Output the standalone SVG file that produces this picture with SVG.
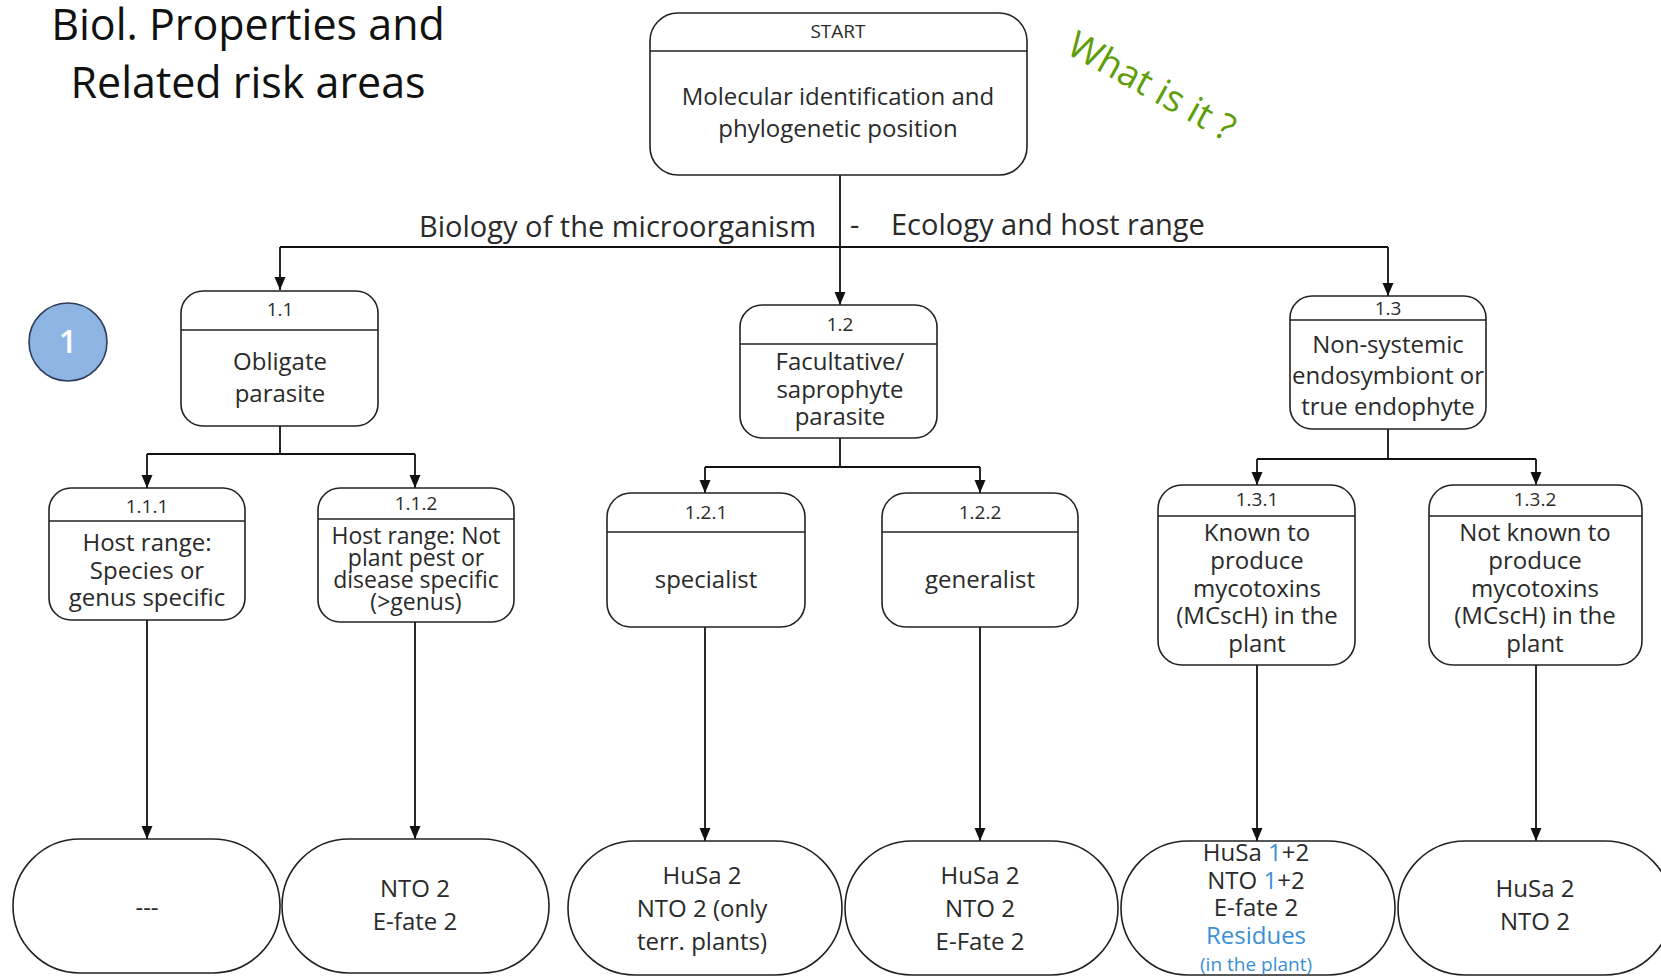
<svg xmlns="http://www.w3.org/2000/svg" width="1661" height="976" viewBox="0 0 1661 976">
<style>
  .box { fill: #ffffff; stroke: #222222; stroke-width: 1.6; }
  .sep { stroke: #222222; stroke-width: 1.6; }
  .conn { fill: none; stroke: #111111; stroke-width: 1.8; }
  text { font-family: "Open Sans", "Noto Sans", sans-serif; fill: #2a2a2a; text-anchor: middle; }
  .hd { font-size: 19px; }
  .bd { font-size: 24px; }
  .tight { font-size: 23px; }
  .bt { font-size: 24px; }
  .lbl { font-size: 29px; text-anchor: start; }
  .title { font-size: 43px; fill: #111111; }
  .blue { fill: #3a8fd4; }
</style>
<defs>
  <marker id="arr" markerUnits="userSpaceOnUse" markerWidth="14" markerHeight="14" viewBox="0 0 14 14" refX="13" refY="7" orient="auto">
    <path d="M0,1.5 L13,7 L0,12.5 Z" fill="#111111"/>
  </marker>
</defs>

<g id="title">
  <text class="title" x="248" y="40">Biol. Properties and</text>
  <text class="title" x="248" y="98">Related risk areas</text>
</g>

<g id="whatisit">
  <text x="0" y="13" transform="translate(1152,86) rotate(29)" style="font-size:37px; fill:#5e9e0a;">What is it ?</text>
</g>

<g id="badge">
  <circle cx="68" cy="342" r="39" fill="#8db4e2" stroke="#2e3d58" stroke-width="1.6"/>
  <text x="68" y="353" style="font-size:32px; fill:#ffffff; font-weight:600;">1</text>
</g>

<g id="connectors">
  <path class="conn" d="M840,175 V247 M280,247 H1388"/>
  <path class="conn" d="M280,247 V290" marker-end="url(#arr)"/>
  <path class="conn" d="M840,247 V305" marker-end="url(#arr)"/>
  <path class="conn" d="M1388,247 V296" marker-end="url(#arr)"/>

  <path class="conn" d="M280,426 V454 M147,454 H415"/>
  <path class="conn" d="M147,454 V488" marker-end="url(#arr)"/>
  <path class="conn" d="M415,454 V488" marker-end="url(#arr)"/>

  <path class="conn" d="M840,438 V467 M705,467 H980"/>
  <path class="conn" d="M705,467 V493" marker-end="url(#arr)"/>
  <path class="conn" d="M980,467 V493" marker-end="url(#arr)"/>

  <path class="conn" d="M1388,429 V459 M1257,459 H1536"/>
  <path class="conn" d="M1257,459 V485" marker-end="url(#arr)"/>
  <path class="conn" d="M1536,459 V485" marker-end="url(#arr)"/>

  <path class="conn" d="M147,620 V839" marker-end="url(#arr)"/>
  <path class="conn" d="M415,622 V839" marker-end="url(#arr)"/>
  <path class="conn" d="M705,627 V841" marker-end="url(#arr)"/>
  <path class="conn" d="M980,627 V841" marker-end="url(#arr)"/>
  <path class="conn" d="M1257,665 V841" marker-end="url(#arr)"/>
  <path class="conn" d="M1536,665 V841" marker-end="url(#arr)"/>
</g>

<g id="branch-labels">
  <text class="lbl" x="419" y="237">Biology of the microorganism</text>
  <text class="lbl" x="850" y="235">-</text>
  <text class="lbl" x="891" y="235">Ecology and host range</text>
</g>

<g id="start">
  <rect class="box" x="650" y="13" width="377" height="162" rx="28"/>
  <line class="sep" x1="650" y1="51" x2="1027" y2="51"/>
  <text class="hd" x="838" y="38">START</text>
  <text class="bd" x="838" y="105">Molecular identification and</text>
  <text class="bd" x="838" y="137">phylogenetic position</text>
</g>

<g id="n1-1">
  <rect class="box" x="181" y="291" width="197" height="135" rx="22"/>
  <line class="sep" x1="181" y1="330" x2="378" y2="330"/>
  <text class="hd" x="280" y="316">1.1</text>
  <text class="bd" x="280" y="370">Obligate</text>
  <text class="bd" x="280" y="402">parasite</text>
</g>

<g id="n1-2">
  <rect class="box" x="740" y="305" width="197" height="133" rx="22"/>
  <line class="sep" x1="740" y1="344" x2="937" y2="344"/>
  <text class="hd" x="840" y="331">1.2</text>
  <text class="bd" x="840" y="370">Facultative/</text>
  <text class="bd" x="840" y="398">saprophyte</text>
  <text class="bd" x="840" y="425">parasite</text>
</g>

<g id="n1-3">
  <rect class="box" x="1290" y="296" width="196" height="133" rx="22"/>
  <line class="sep" x1="1290" y1="320" x2="1486" y2="320"/>
  <text class="hd" x="1388" y="315">1.3</text>
  <text class="bd" x="1388" y="353">Non-systemic</text>
  <text class="bd" x="1388" y="384">endosymbiont or</text>
  <text class="bd" x="1388" y="415">true endophyte</text>
</g>

<g id="n1-1-1">
  <rect class="box" x="49" y="488" width="196" height="132" rx="22"/>
  <line class="sep" x1="49" y1="521" x2="245" y2="521"/>
  <text class="hd" x="147" y="513">1.1.1</text>
  <text class="bd" x="147" y="551">Host range:</text>
  <text class="bd" x="147" y="579">Species or</text>
  <text class="bd" x="147" y="606">genus specific</text>
</g>

<g id="n1-1-2">
  <rect class="box" x="318" y="488" width="196" height="134" rx="22"/>
  <line class="sep" x1="318" y1="519" x2="514" y2="519"/>
  <text class="hd" x="416" y="510">1.1.2</text>
  <text class="tight" x="416" y="544">Host range: Not</text>
  <text class="tight" x="416" y="566">plant pest or</text>
  <text class="tight" x="416" y="588">disease specific</text>
  <text class="tight" x="416" y="610">(&gt;genus)</text>
</g>

<g id="n1-2-1">
  <rect class="box" x="607" y="493" width="198" height="134" rx="24"/>
  <line class="sep" x1="607" y1="532" x2="805" y2="532"/>
  <text class="hd" x="706" y="519">1.2.1</text>
  <text class="bd" x="706" y="588">specialist</text>
</g>

<g id="n1-2-2">
  <rect class="box" x="882" y="493" width="196" height="134" rx="24"/>
  <line class="sep" x1="882" y1="532" x2="1078" y2="532"/>
  <text class="hd" x="980" y="519">1.2.2</text>
  <text class="bd" x="980" y="588">generalist</text>
</g>

<g id="n1-3-1">
  <rect class="box" x="1158" y="485" width="197" height="180" rx="24"/>
  <line class="sep" x1="1158" y1="516" x2="1355" y2="516"/>
  <text class="hd" x="1257" y="506">1.3.1</text>
  <text class="bd" x="1257" y="541">Known to</text>
  <text class="bd" x="1257" y="569">produce</text>
  <text class="bd" x="1257" y="597">mycotoxins</text>
  <text class="bd" x="1257" y="624">(MCscH) in the</text>
  <text class="bd" x="1257" y="652">plant</text>
</g>

<g id="n1-3-2">
  <rect class="box" x="1429" y="485" width="213" height="180" rx="24"/>
  <line class="sep" x1="1429" y1="516" x2="1642" y2="516"/>
  <text class="hd" x="1535" y="506">1.3.2</text>
  <text class="bd" x="1535" y="541">Not known to</text>
  <text class="bd" x="1535" y="569">produce</text>
  <text class="bd" x="1535" y="597">mycotoxins</text>
  <text class="bd" x="1535" y="624">(MCscH) in the</text>
  <text class="bd" x="1535" y="652">plant</text>
</g>

<g id="r1">
  <rect class="box" x="13" y="839" width="267" height="134" rx="67"/>
  <text class="bt" x="147" y="916">---</text>
</g>

<g id="r2">
  <rect class="box" x="282" y="839" width="267" height="134" rx="67"/>
  <text class="bt" x="415" y="897">NTO 2</text>
  <text class="bt" x="415" y="930">E-fate 2</text>
</g>

<g id="r3">
  <rect class="box" x="568" y="841" width="274" height="134" rx="67"/>
  <text class="bt" x="702" y="884">HuSa 2</text>
  <text class="bt" x="702" y="917">NTO 2 (only</text>
  <text class="bt" x="702" y="950">terr. plants)</text>
</g>

<g id="r4">
  <rect class="box" x="845" y="841" width="273" height="134" rx="67"/>
  <text class="bt" x="980" y="884">HuSa 2</text>
  <text class="bt" x="980" y="917">NTO 2</text>
  <text class="bt" x="980" y="950">E-Fate 2</text>
</g>

<g id="r5">
  <rect class="box" x="1121" y="841" width="274" height="134" rx="67"/>
  <text class="bt" x="1256" y="861">HuSa <tspan class="blue">1</tspan>+2</text>
  <text class="bt" x="1256" y="889">NTO <tspan class="blue">1</tspan>+2</text>
  <text class="bt" x="1256" y="916">E-fate 2</text>
  <text class="bt blue" x="1256" y="944">Residues</text>
  <text class="blue" x="1256" y="971" style="font-size:19px;">(in the plant)</text>
</g>

<g id="r6">
  <rect class="box" x="1398" y="841" width="274" height="134" rx="67"/>
  <text class="bt" x="1535" y="897">HuSa 2</text>
  <text class="bt" x="1535" y="930">NTO  2</text>
</g>
</svg>
